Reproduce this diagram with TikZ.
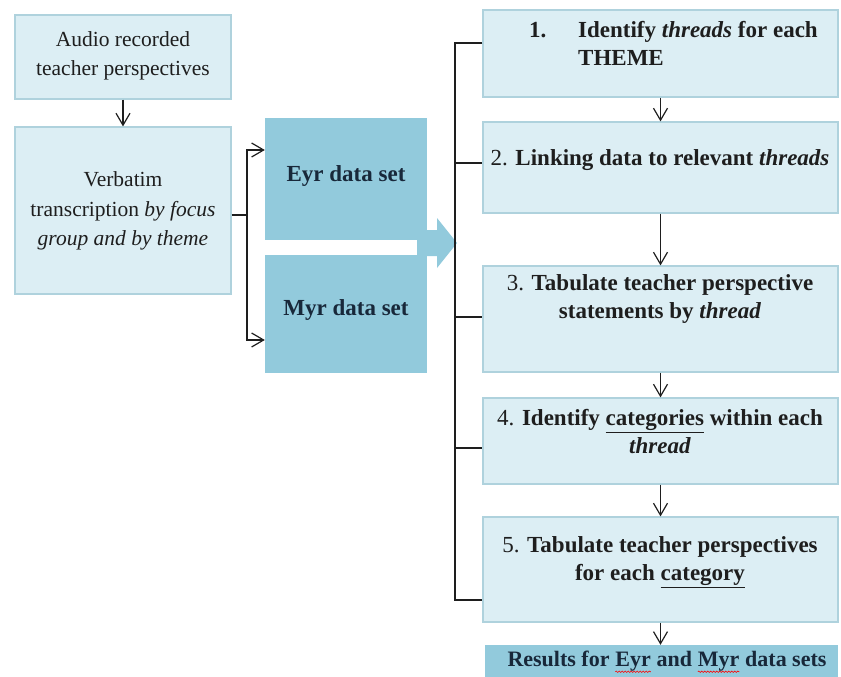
\documentclass[tikz,border=0pt]{standalone}
\usepackage{fontspec}
\setmainfont{Liberation Serif}
\usetikzlibrary{arrows.meta,decorations.pathmorphing,calc}
\definecolor{lightfill}{HTML}{DCEEF4}
\definecolor{lightline}{HTML}{AFD2DD}
\definecolor{darkfill}{HTML}{92CADC}
\definecolor{navy}{HTML}{18283A}
\definecolor{ink}{HTML}{1E1E1E}
\newcommand\spellmark[1]{\tikz[baseline=(w.base)]{\node[inner sep=0pt,outer sep=0pt,anchor=base](w){#1};\draw[red,line width=0.6pt,decorate,decoration={snake,amplitude=0.7pt,segment length=3pt}]([yshift=-5pt]w.base west)--([yshift=-5pt]w.base east);}}
\begin{document}
\begin{tikzpicture}[x=1pt,y=-1pt,
  lbox/.style={draw=lightline, line width=1.2pt, fill=lightfill, inner sep=0pt},
  dbox/.style={fill=darkfill, inner sep=0pt},
  ltxt/.style={font=\fontsize{21.5}{29.5}\selectfont, align=center, inner sep=0pt, text=ink},
  btxt/.style={font=\fontsize{23}{28}\selectfont\bfseries, align=center, inner sep=0pt, text=ink},
  dtxt/.style={font=\fontsize{23}{28}\selectfont\bfseries, align=center, inner sep=0pt, text=navy},
  conn/.style={line width=1.2pt, draw=ink, -{Straight Barb[length=12pt,width=14pt,line width=1.2pt]}},
  plainline/.style={line width=1.2pt, draw=ink}]
\useasboundingbox (0,0) rectangle (841,677);

% big arrow behind data-set boxes
\fill[darkfill] (417,230) -- (437,230) -- (437,218) -- (457,243) -- (437,268) -- (437,256) -- (417,256) -- cycle;

% left boxes
\node[lbox, minimum width=216pt, minimum height=84pt] (A) at (123,57) {};
\node[lbox, minimum width=216pt, minimum height=167pt] (B) at (123,210.5) {};
\node[dbox, minimum width=162pt, minimum height=122pt] (Eyr) at (346,179) {};
\node[dbox, minimum width=162pt, minimum height=118pt] (Myr) at (346,314) {};

% right boxes
\node[lbox, minimum width=355pt, minimum height=87pt] (b1) at (660.5,53.5) {};
\node[lbox, minimum width=355pt, minimum height=91pt] (b2) at (660.5,167.5) {};
\node[lbox, minimum width=355pt, minimum height=106pt] (b3) at (660.5,319) {};
\node[lbox, minimum width=355pt, minimum height=86pt] (b4) at (660.5,441) {};
\node[lbox, minimum width=355pt, minimum height=105pt] (b5) at (660.5,569.5) {};
\node[dbox, minimum width=353pt, minimum height=32pt] (b6) at (661.5,661) {};

% texts
\node[ltxt] (tA) at (123,56) {Audio recorded\\teacher perspectives};
\node[ltxt] (tB) at (123,211) {Verbatim\\transcription \textit{by focus}\\\textit{group and by theme}};
\node[dtxt] (tEyr) at (346,176) {Eyr data set};
\node[dtxt] (tMyr) at (346,310) {Myr data set};
\node[btxt, anchor=base west] (t1n) at (529,38) {1.};
\node[btxt, anchor=base west] (t1a) at (578,38) {Identify \textit{threads} for each};
\node[btxt, anchor=base west] (t1b) at (578,66) {THEME};
\node[btxt] (t2) at (660,160) {\mdseries 2. \bfseries Linking data to relevant \textit{threads}};
\node[btxt] (t3) at (660,299) {\mdseries 3. \bfseries Tabulate teacher perspective\\statements by \textit{thread}};
\node[btxt] (t4) at (660,432) {\mdseries 4. \bfseries Identify \underline{categories} within each\\\textit{thread}};
\node[btxt] (t5) at (660,562) {\mdseries 5. \bfseries Tabulate teacher perspectives\\for each \underline{category}};
\node[dtxt, font=\fontsize{22}{26}\selectfont\bfseries] (t6) at (667,662) {Results for \spellmark{Eyr} and \spellmark{Myr} data sets};

% left connectors
\draw[conn] (A.south) -- (B.north);
\coordinate (jB) at (247,215);
\draw[plainline] (B.east |- jB) -- (jB);
\draw[conn] (jB) |- ($(Eyr.west)+(0,-29)$);
\draw[conn] (jB) |- ($(Myr.west)+(0,26)$);

% right bracket
\coordinate (rt) at (455,43);
\coordinate (rb) at (455,600);
\draw[plainline] (b1.west |- rt) -- (rt) -- (rb) -- (b5.west |- rb);
\draw[plainline] (455,163) -- (b2.west |- 0,163);
\draw[plainline] (455,317) -- (b3.west |- 0,317);
\draw[plainline] (455,448) -- (b4.west |- 0,448);

% right arrows
\draw[conn] (b1.south) -- (b2.north);
\draw[conn] (b2.south) -- (b3.north);
\draw[conn] (b3.south) -- (b4.north);
\draw[conn] (b4.south) -- (b5.north);
\draw[conn] (b5.south) -- (b5.south |- b6.north);
\end{tikzpicture}
\end{document}
